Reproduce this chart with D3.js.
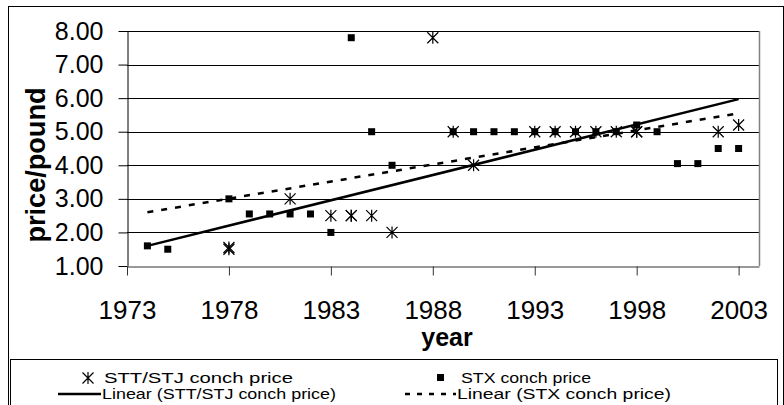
<!DOCTYPE html>
<html><head><meta charset="utf-8">
<script src="https://cdn.jsdelivr.net/npm/d3@7"></script>
<style>
body{margin:0;background:#fff}
svg{display:block}
text{font-family:"Liberation Sans",Arial,sans-serif;fill:#000}
</style></head>
<body><svg id="c" width="784" height="405"></svg>
<script>
// ---- data ----
const xTickYears = [1973, 1978, 1983, 1988, 1993, 1998, 2003];
const yTickValues = [1, 2, 3, 4, 5, 6, 7, 8];
const yTickLabels = ["1.00","2.00","3.00","4.00","5.00","6.00","7.00","8.00"];

const sttYears  = [1978, 1978, 1981, 1983, 1984, 1984, 1985, 1986, 1988, 1989, 1990, 1993, 1994, 1995, 1996, 1997, 1998, 1998, 2002, 2003];
const sttPrices = [1.5, 1.55, 3.0, 2.5, 2.5, 2.5, 2.5, 2.0, 7.8, 5.0, 4.0, 5.0, 5.0, 5.0, 5.0, 5.0, 5.0, 5.0, 5.0, 5.2];

const stxYears  = [1974, 1975, 1978, 1979, 1980, 1981, 1982, 1983, 1984, 1985, 1986, 1989, 1990, 1991, 1992, 1993, 1994, 1995, 1996, 1997, 1998, 1999, 2000, 2001, 2002, 2003];
const stxPrices = [1.6, 1.5, 3.0, 2.55, 2.55, 2.55, 2.55, 2.0, 7.8, 5.0, 4.0, 5.0, 5.0, 5.0, 5.0, 5.0, 5.0, 5.0, 5.0, 5.0, 5.2, 5.0, 4.05, 4.05, 4.5, 4.5];

// linear trend lines (end points)
const sttTrendYears  = [1974, 2003];
const sttTrendPrices = [1.6, 5.97];
const stxTrendYears  = [1974, 2003];
const stxTrendPrices = [2.6, 5.55];

const legendLabels = ["STT/STJ conch price", "STX conch price", "Linear (STT/STJ conch price)", "Linear (STX conch price)"];

// ---- chart ----
const svg = d3.select("#c");
const L = 127, R = 759, T = 31, B = 266;
const x = d3.scaleLinear().domain([1973, 2004]).range([L, R]);
const y = d3.scaleLinear().domain([1, 8]).range([B, T]);

// outer border
svg.append("rect").attr("x", 8.5).attr("y", 6.5).attr("width", 775).attr("height", 420)
  .attr("fill", "none").attr("stroke", "#000").attr("stroke-width", 1);

// gridlines
svg.append("g").selectAll("line").data(yTickValues.slice(1)).join("line")
  .attr("x1", L).attr("x2", R)
  .attr("y1", d => Math.round(y(d)) + 0.5).attr("y2", d => Math.round(y(d)) + 0.5)
  .attr("stroke", "#000").attr("stroke-width", 1);

// plot border right
svg.append("line").attr("x1", R + 0.5).attr("x2", R + 0.5).attr("y1", T).attr("y2", B)
  .attr("stroke", "#808080").attr("stroke-width", 1.5);

// y axis
const yAxis = svg.append("g").attr("transform", `translate(${L + 0.5},0)`)
  .call(d3.axisLeft(y).tickValues(yTickValues)
    .tickFormat((d, i) => yTickLabels[i]).tickSize(9).tickPadding(15).tickSizeOuter(0));
yAxis.selectAll("text").attr("font-size", 25).style("font-family", '"Liberation Sans",Arial,sans-serif');
yAxis.selectAll("line,path").attr("stroke", "#000");

// x axis
const xAxis = svg.append("g").attr("transform", `translate(0,${B + 0.5})`)
  .call(d3.axisBottom(x).tickValues(xTickYears).tickFormat(d3.format("d"))
    .tickSize(9).tickPadding(25).tickSizeOuter(0));
xAxis.selectAll("text").attr("font-size", 26).style("font-family", '"Liberation Sans",Arial,sans-serif');
xAxis.selectAll("line,path").attr("stroke", "#333");

// axis titles
svg.append("text").attr("x", 447).attr("y", 346).attr("text-anchor", "middle")
  .attr("font-size", 25).attr("font-weight", "bold").text("year");
svg.append("text").attr("transform", "translate(45,165) rotate(-90)").attr("text-anchor", "middle")
  .attr("font-size", 28).attr("font-weight", "bold").attr("textLength", 155).attr("lengthAdjust", "spacingAndGlyphs")
  .text("price/pound");

// trend lines
const line = d3.line().x(d => x(d[0])).y(d => y(d[1]));
svg.append("path").datum(d3.zip(sttTrendYears, sttTrendPrices)).attr("d", line)
  .attr("fill", "none").attr("stroke", "#000").attr("stroke-width", 2.5);
svg.append("path").datum(d3.zip(stxTrendYears, stxTrendPrices)).attr("d", line)
  .attr("fill", "none").attr("stroke", "#000").attr("stroke-width", 2.5).attr("stroke-dasharray", "6,8");

// markers
const starPath = "M0,-6L0,6M-5.5,-5.5L5.5,5.5M-5.5,5.5L5.5,-5.5";
svg.append("g").selectAll("rect").data(d3.zip(stxYears, stxPrices)).join("rect")
  .attr("x", d => x(d[0]) - 3.5).attr("y", d => y(d[1]) - 3.5)
  .attr("width", 7).attr("height", 7).attr("fill", "#000");
svg.append("g").selectAll("path").data(d3.zip(sttYears, sttPrices)).join("path")
  .attr("transform", d => `translate(${x(d[0])},${y(d[1])})`)
  .attr("d", starPath).attr("fill", "none").attr("stroke", "#000").attr("stroke-width", 1.2);

// legend
const lg = svg.append("g");
lg.append("rect").attr("x", 10.5).attr("y", 359.5).attr("width", 767).attr("height", 60)
  .attr("fill", "#fff").attr("stroke", "#000").attr("stroke-width", 1);
lg.append("path").attr("transform", "translate(88,378)").attr("d", starPath)
  .attr("fill", "none").attr("stroke", "#000").attr("stroke-width", 1.2);
lg.append("rect").attr("x", 437).attr("y", 374).attr("width", 7).attr("height", 7).attr("fill", "#000");
lg.append("line").attr("x1", 58).attr("x2", 101).attr("y1", 394).attr("y2", 394)
  .attr("stroke", "#000").attr("stroke-width", 2.5);
lg.append("line").attr("x1", 405).attr("x2", 456).attr("y1", 394).attr("y2", 394)
  .attr("stroke", "#000").attr("stroke-width", 2.5).attr("stroke-dasharray", "5,7");
const lx = [104, 461, 102, 457], ly = [383, 383, 399, 399], lw = [189, 130, 234, 214];
legendLabels.forEach((t, i) => {
  lg.append("text").attr("x", lx[i]).attr("y", ly[i]).attr("font-size", 14)
    .attr("textLength", lw[i]).attr("lengthAdjust", "spacingAndGlyphs").text(t);
});
</script></body></html>
